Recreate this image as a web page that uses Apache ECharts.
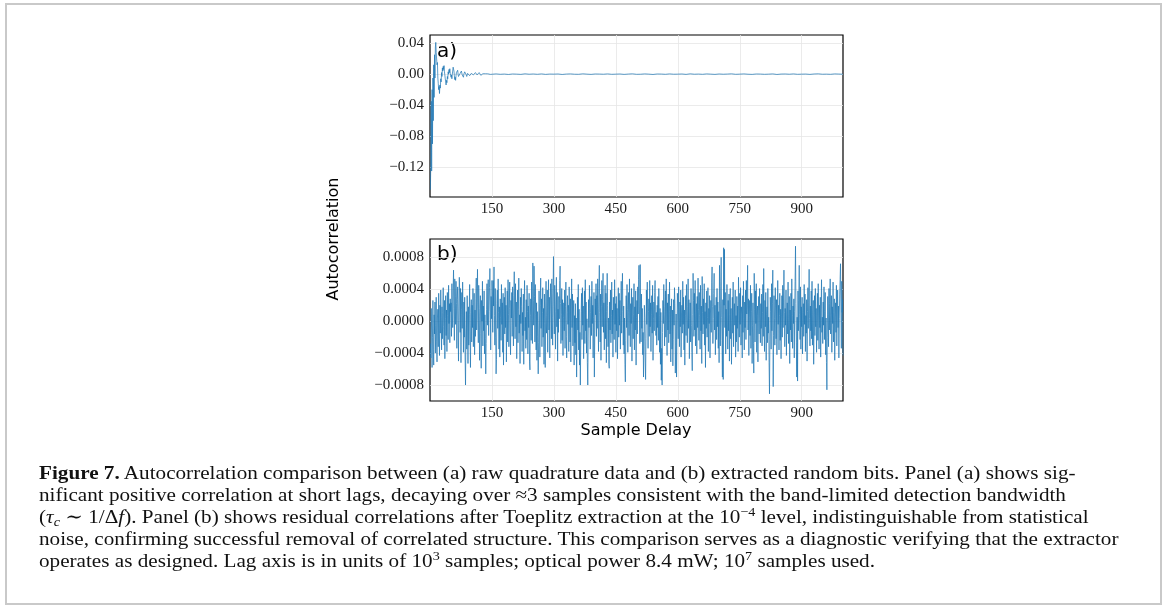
<!DOCTYPE html>
<html><head><meta charset="utf-8">
<script src="https://cdn.jsdelivr.net/npm/echarts@6/dist/echarts.min.js"></script>
<style>
html,body{margin:0;padding:0;background:#fff;width:1165px;height:608px;overflow:hidden}
#chart{position:absolute;left:0;top:0;width:1165px;height:608px}
#frame{position:absolute;left:5px;top:3px;width:1157px;height:602px;border:2px solid #c9c9c9;pointer-events:none;box-sizing:border-box}
#caption{position:absolute;left:39px;top:462px;font-family:'Liberation Serif','DejaVu Serif',serif;font-size:19.5px;line-height:22px;color:#111;white-space:nowrap;transform:scaleX(1.085);transform-origin:0 0}
#caption i{font-style:italic}
#caption sup{font-size:13px;line-height:0;vertical-align:7px}
#caption sub{font-size:13px;line-height:0;vertical-align:-3px}
</style></head>
<body>
<div id="chart"></div>
<div id="frame"></div>
<div id="caption">
<div><b>Figure 7.</b> Autocorrelation comparison between (a) raw quadrature data and (b) extracted random bits. Panel (a) shows sig-</div>
<div>nificant positive correlation at short lags, decaying over ≈3 samples consistent with the band-limited detection bandwidth</div>
<div>(<i>τ<sub>c</sub></i> ∼ 1/Δ<i>f</i>). Panel (b) shows residual correlations after Toeplitz extraction at the 10<sup>−4</sup> level, indistinguishable from statistical</div>
<div>noise, confirming successful removal of correlated structure. This comparison serves as a diagnostic verifying that the extractor</div>
<div>operates as designed. Lag axis is in units of 10<sup>3</sup> samples; optical power 8.4 mW; 10<sup>7</sup> samples used.</div>
</div>
<script>
// ---------- DATA ----------
// Panel (a): raw quadrature autocorrelation, lags 1..150 (every lag)
const aHeadValues = [
-0.149,-0.11,-0.035,-0.125,-0.02,-0.09,-0.005,-0.06,0.012,-0.03,
0.025,-0.005,0.035,0.041,0.028,0.03,0.012,0.015,-0.005,-0.012,
-0.02,-0.016,-0.025,-0.014,-0.018,-0.006,-0.01,0.002,-0.003,0.008,
0.004,0.01,0.006,0.011,0.003,0.004,-0.006,-0.004,-0.014,-0.008,
-0.011,-0.003,-0.006,0.003,0.0,0.006,0.002,0.007,0.001,0.003,
-0.004,-0.001,-0.006,0.0,0.004,0.009,0.011,0.004,-0.002,-0.007,
-0.004,-0.008,-0.002,0.002,0.004,0.001,0.005,0.0,-0.003,-0.005,
-0.002,-0.004,0.001,0.003,0.001,0.004,0.002,-0.001,-0.003,-0.001,
-0.004,0.0,0.002,0.003,0.001,0.003,0.0,-0.002,-0.003,-0.001,
0.001,0.002,0.003,0.001,0.0,-0.002,-0.001,-0.003,-0.001,0.001,
0.002,0.003,0.001,0.002,-0.001,-0.002,0.0,-0.002,0.001,0.002,
0.0,0.002,0.001,-0.001,-0.002,0.0,-0.001,0.001,0.002,0.001,
0.0015,-0.0005,-0.0015,-0.001,0.0,0.001,0.0015,0.0005,-0.0005,-0.001,
-0.0005,0.0005,0.001,0.0005,0.0,-0.0005,-0.0008,0.0,0.0006,0.0004,
-0.0002,-0.0005,0.0,0.0004,0.0002,-0.0003,0.0,0.0003,-0.0002,0.0001
];
// Panel (a): tail, lags 160..1000 every 10 lags
const aTailValues = [
3e-4,-2e-4,1e-4,-4e-4,2e-4,0,-3e-4,4e-4,-1e-4,2e-4,
-2e-4,3e-4,-3e-4,1e-4,0,2e-4,-4e-4,1e-4,3e-4,-1e-4,
-2e-4,4e-4,0,-3e-4,2e-4,1e-4,-1e-4,3e-4,-2e-4,0,
2e-4,-3e-4,1e-4,4e-4,-2e-4,-1e-4,3e-4,0,-4e-4,2e-4,
1e-4,-2e-4,3e-4,-1e-4,0,2e-4,-3e-4,4e-4,-1e-4,1e-4,
-2e-4,3e-4,0,-3e-4,2e-4,-1e-4,1e-4,4e-4,-2e-4,0,
3e-4,-1e-4,-3e-4,2e-4,1e-4,-2e-4,0,3e-4,-4e-4,1e-4,
2e-4,-1e-4,3e-4,-2e-4,0,1e-4,-3e-4,2e-4,4e-4,-1e-4,
0,-2e-4,3e-4,1e-4,-1e-4
];
// Panel (b): extracted bits autocorrelation, lags 1..1000
const bValues = [
-2.8e-4,-4.6e-4,1.6e-4,-1.1e-4,-5.8e-4,-2.0e-4,2.6e-4,-3.5e-4,-5.5e-4,0.8e-4,-1.6e-4,2.4e-4,-4.0e-4,-0.5e-4,3.0e-4,-2.6e-4,-5.1e-4,0.4e-4,1.5e-4,-3.2e-4,3.5e-4,-1.2e-4,-4.3e-4,2.0e-4,-1.5e-4,3.9e-4,0.5e-4,-3.6e-4,1.8e-4,-2.2e-4,1.1e-4,4.2e-4,-0.7e-4,-3.0e-4,2.6e-4,-4.7e-4,0.3e-4,3.2e-4,-1.8e-4,1.4e-4,-3.8e-4,3.6e-4,0.7e-4,-2.3e-4,4.5e-4,-0.3e-4,2.2e-4,-2.7e-4,2.8e-4,1.2e-4,
2.3e-4,-1.9e-4,4.7e-4,0.9e-4,-0.8e-4,3.8e-4,6.4e-4,1.6e-4,-2.4e-4,5.3e-4,3.1e-4,-0.4e-4,5.0e-4,2.2e-4,-3.4e-4,2.7e-4,4.3e-4,0.1e-4,-5.0e-4,1.9e-4,5.5e-4,3.4e-4,-1.4e-4,4.1e-4,-5.2e-4,1.5e-4,3.6e-4,-0.9e-4,4.9e-4,0.7e-4,-3.9e-4,2.4e-4,-2.0e-4,3.0e-4,-4.6e-4,-8.0e-4,-1.6e-4,1.2e-4,-3.5e-4,3.2e-4,-0.1e-4,-5.3e-4,1.8e-4,-3.0e-4,0.8e-4,4.6e-4,-2.3e-4,-5.8e-4,1.1e-4,2.7e-4,
-2.6e-4,2.0e-4,-0.8e-4,4.1e-4,-3.2e-4,0.5e-4,3.5e-4,-4.2e-4,1.4e-4,-1.9e-4,2.8e-4,5.4e-4,-1.1e-4,2.3e-4,6.5e-4,0.4e-4,-2.7e-4,4.5e-4,1.6e-4,-4.9e-4,0.9e-4,3.2e-4,-1.5e-4,-5.9e-4,2.6e-4,0,5.0e-4,-3.1e-4,1.9e-4,-1.2e-4,3.8e-4,-4.1e-4,0.8e-4,-2.2e-4,-6.6e-4,-2.8e-4,1.5e-4,4.7e-4,-0.5e-4,2.7e-4,5.2e-4,-1.8e-4,1.2e-4,4.2e-4,6.6e-4,2.4e-4,-3.6e-4,3.1e-4,0.3e-4,5.1e-4,
3.4e-4,-1.4e-4,5.1e-4,1.9e-4,6.8e-4,0.7e-4,-3.0e-4,4.1e-4,-2.0e-4,-6.6e-4,-4.8e-4,2.2e-4,3.9e-4,-0.9e-4,5.3e-4,1.1e-4,-3.5e-4,1.8e-4,-4.5e-4,2.8e-4,0.5e-4,-2.4e-4,4.6e-4,-0.4e-4,2.3e-4,-3.9e-4,3.5e-4,-5.5e-4,1.2e-4,3.0e-4,-1.6e-4,4.2e-4,-0.8e-4,2.0e-4,-5.1e-4,0.1e-4,3.8e-4,-2.6e-4,5.2e-4,0.8e-4,-3.2e-4,1.6e-4,4.9e-4,-1.1e-4,-4.2e-4,2.6e-4,0.4e-4,3.6e-4,-1.9e-4,4.3e-4,
1.4e-4,-3.1e-4,3.2e-4,6.2e-4,0.9e-4,-2.2e-4,4.7e-4,-0.7e-4,2.4e-4,-4.7e-4,0.3e-4,3.9e-4,-2.7e-4,1.5e-4,5.4e-4,-1.5e-4,0.8e-4,-5.3e-4,3.0e-4,-0.3e-4,4.1e-4,1.8e-4,-3.8e-4,1.1e-4,-1.8e-4,3.4e-4,-5.4e-4,2.2e-4,5.1e-4,-1.2e-4,0.5e-4,-3.4e-4,2.7e-4,-2.3e-4,4.5e-4,1.2e-4,-4.1e-4,1.9e-4,-0.8e-4,3.5e-4,-5.1e-4,-6.1e-4,0.7e-4,2.8e-4,-2.4e-4,4.9e-4,0.3e-4,-2.8e-4,7.3e-4,2.6e-4,
-0.5e-4,6.9e-4,3.1e-4,-2.6e-4,4.6e-4,0.8e-4,-3.6e-4,2.3e-4,-4.9e-4,1.2e-4,-1.9e-4,-6.6e-4,-2.7e-4,3.8e-4,0.4e-4,-4.5e-4,2.0e-4,5.4e-4,-0.9e-4,2.8e-4,-3.2e-4,1.1e-4,4.2e-4,-2.0e-4,1.6e-4,-5.4e-4,3.4e-4,-0.3e-4,-5.8e-4,1.4e-4,5.0e-4,-1.5e-4,0.7e-4,3.9e-4,-3.9e-4,1.9e-4,5.2e-4,-1.1e-4,3.0e-4,-4.6e-4,0.9e-4,4.7e-4,2.6e-4,-2.2e-4,5.3e-4,0.5e-4,-3.0e-4,3.5e-4,8.1e-4,1.8e-4,
-1.6e-4,4.5e-4,1.2e-4,-3.5e-4,2.4e-4,5.5e-4,-0.7e-4,3.6e-4,-5.0e-4,1.5e-4,-1.4e-4,3.1e-4,0.3e-4,5.1e-4,6.9e-4,2.2e-4,-2.8e-4,0.8e-4,4.1e-4,-2.4e-4,2.7e-4,-4.3e-4,0.5e-4,2.3e-4,-1.2e-4,3.9e-4,-3.4e-4,1.8e-4,4.9e-4,-1.9e-4,-4.6e-4,1.1e-4,3.2e-4,-0.4e-4,2.0e-4,-3.8e-4,4.3e-4,0,-2.6e-4,2.8e-4,-5.1e-4,1.4e-4,5.3e-4,-0.8e-4,3.4e-4,-3.1e-4,0.9e-4,2.6e-4,-5.5e-4,0.7e-4,
-2.7e-4,2.2e-4,-4.2e-4,0.4e-4,-7.0e-4,-2.0e-4,3.0e-4,-1.1e-4,4.6e-4,-3.6e-4,1.5e-4,-5.5e-4,-1.4e-4,-8.0e-4,-3.1e-4,1.2e-4,3.5e-4,-2.3e-4,4.2e-4,-0.5e-4,1.9e-4,-4.7e-4,0.8e-4,3.8e-4,-2.8e-4,5.2e-4,-1.2e-4,2.4e-4,-4.0e-4,0.3e-4,-5.2e-4,-8.0e-4,-2.6e-4,2.7e-4,-0.8e-4,4.5e-4,1.6e-4,-3.5e-4,1.1e-4,3.1e-4,-1.8e-4,5.0e-4,-0.3e-4,2.0e-4,-4.6e-4,0.5e-4,3.6e-4,-7.0e-4,-1.5e-4,2.8e-4,
0.8e-4,4.7e-4,-1.9e-4,3.2e-4,-0.9e-4,5.3e-4,1.6e-4,-3.8e-4,4.1e-4,7.0e-4,1.1e-4,-2.6e-4,3.4e-4,-4.9e-4,1.8e-4,5.1e-4,-0.7e-4,2.7e-4,6.0e-4,-1.4e-4,2.3e-4,-3.6e-4,0.5e-4,4.5e-4,-2.2e-4,3.5e-4,-5.2e-4,1.2e-4,6.0e-4,2.0e-4,-3.2e-4,0.4e-4,-5.4e-4,-5.9e-4,2.4e-4,-1.1e-4,3.9e-4,-2.7e-4,0.7e-4,4.9e-4,-1.6e-4,1.4e-4,-4.5e-4,3.0e-4,0.1e-4,-2.3e-4,5.2e-4,-0.4e-4,2.2e-4,-3.9e-4,
3.1e-4,-1.2e-4,1.6e-4,-4.7e-4,0.9e-4,4.2e-4,-2.0e-4,3.5e-4,-0.5e-4,2.6e-4,-3.5e-4,0.7e-4,5.0e-4,-1.5e-4,2.7e-4,6.0e-4,1.2e-4,-3.0e-4,1.9e-4,-4.1e-4,0.4e-4,-5.4e-4,-7.6e-4,-2.4e-4,3.2e-4,-0.8e-4,4.6e-4,1.5e-4,-3.9e-4,1.1e-4,3.6e-4,-1.8e-4,5.3e-4,0.3e-4,-3.2e-4,2.2e-4,-0.3e-4,4.1e-4,-5.0e-4,1.4e-4,3.0e-4,-2.2e-4,0.8e-4,4.7e-4,-3.6e-4,1.8e-4,-1.1e-4,3.8e-4,-5.5e-4,0.5e-4,
2.6e-4,-1.6e-4,4.3e-4,0.9e-4,5.2e-4,7.0e-4,1.9e-4,-2.8e-4,7.1e-4,0.4e-4,-2.6e-4,3.4e-4,-0.9e-4,1.6e-4,-4.2e-4,-1.4e-4,-7.0e-4,-3.2e-4,2.0e-4,0.5e-4,-4.6e-4,-7.3e-4,-2.2e-4,3.9e-4,-0.4e-4,4.9e-4,1.4e-4,-3.4e-4,1.2e-4,2.8e-4,-1.9e-4,5.1e-4,-0.7e-4,2.3e-4,-3.8e-4,0.8e-4,3.2e-4,-1.5e-4,4.5e-4,-4.9e-4,0.3e-4,2.4e-4,-1.2e-4,3.6e-4,5.1e-4,5.3e-4,-1.8e-4,1.1e-4,-3.0e-4,2.0e-4,
-0.8e-4,3.1e-4,-2.4e-4,4.1e-4,0.7e-4,-3.9e-4,1.6e-4,-5.4e-4,1.1e-4,-7.4e-4,-3.4e-4,-8.0e-4,-1.4e-4,2.6e-4,-0.3e-4,4.6e-4,1.8e-4,-3.1e-4,0.8e-4,3.8e-4,-2.0e-4,5.3e-4,0,-4.3e-4,2.3e-4,-1.1e-4,3.4e-4,-2.7e-4,1.2e-4,4.9e-4,-1.6e-4,1.9e-4,-5.1e-4,0.4e-4,2.8e-4,-3.5e-4,1.4e-4,-5.6e-4,-2.3e-4,2.7e-4,-0.5e-4,4.2e-4,2.2e-4,-6.5e-4,-3.0e-4,0.9e-4,-7.0e-4,-1.2e-4,3.5e-4,1.5e-4,
-2.2e-4,4.3e-4,0.5e-4,-3.2e-4,2.4e-4,-0.7e-4,3.9e-4,-4.5e-4,0.9e-4,2.0e-4,-1.5e-4,5.0e-4,-0.4e-4,3.0e-4,-3.6e-4,1.4e-4,-5.5e-4,0.7e-4,3.2e-4,-1.8e-4,4.6e-4,1.2e-4,-2.7e-4,1.8e-4,5.3e-4,-0.9e-4,2.7e-4,-4.7e-4,0.3e-4,2.3e-4,-2.6e-4,4.1e-4,-0.5e-4,-3.9e-4,-6.2e-4,0.8e-4,6.0e-4,2.6e-4,-1.9e-4,3.5e-4,-1.1e-4,5.1e-4,-3.1e-4,0.4e-4,2.2e-4,-4.1e-4,3.1e-4,-0.8e-4,5.4e-4,1.5e-4,
-2.4e-4,3.6e-4,0.7e-4,-3.5e-4,4.5e-4,-1.2e-4,1.9e-4,-5.3e-4,5.6e-4,1.1e-4,-1.6e-4,2.8e-4,-0.4e-4,4.7e-4,-3.0e-4,1.2e-4,-5.8e-4,2.3e-4,-0.9e-4,3.8e-4,-2.0e-4,0.5e-4,4.2e-4,-3.8e-4,1.6e-4,-0.3e-4,3.2e-4,-4.6e-4,0.9e-4,2.6e-4,-1.4e-4,4.9e-4,6.8e-4,1.8e-4,-2.8e-4,0.3e-4,3.5e-4,6.0e-4,-1.1e-4,2.0e-4,-4.2e-4,0.8e-4,3.0e-4,-2.3e-4,4.1e-4,-0.7e-4,2.4e-4,-3.4e-4,1.2e-4,-5.2e-4,
7.0e-4,1.9e-4,-3.1e-4,4.3e-4,8.0e-4,0.5e-4,-2.4e-4,-7.0e-4,2.7e-4,-7.3e-4,9.2e-4,2.0e-4,9.0e-4,-0.8e-4,3.6e-4,-4.1e-4,1.5e-4,-1.9e-4,4.6e-4,0.4e-4,-3.5e-4,2.6e-4,-1.2e-4,3.4e-4,-5.0e-4,0.8e-4,4.1e-4,-2.2e-4,1.6e-4,-5.4e-4,0.1e-4,3.0e-4,-1.5e-4,4.9e-4,-3.2e-4,1.1e-4,2.2e-4,-0.5e-4,3.9e-4,-4.5e-4,0.7e-4,-2.6e-4,3.1e-4,-0.9e-4,1.9e-4,-3.8e-4,5.5e-4,1.4e-4,-2.0e-4,3.5e-4,
-0.4e-4,4.2e-4,-3.0e-4,1.8e-4,0.8e-4,-4.6e-4,3.2e-4,-1.4e-4,5.0e-4,0.3e-4,-3.6e-4,2.4e-4,-0.8e-4,3.9e-4,-2.3e-4,5.1e-4,0.9e-4,2.0e-4,7.0e-4,-1.1e-4,2.8e-4,-4.3e-4,0.5e-4,2.6e-4,-1.8e-4,4.5e-4,-3.4e-4,1.2e-4,3.5e-4,-5.3e-4,-0.5e-4,2.3e-4,-2.8e-4,-6.5e-4,6.0e-4,1.5e-4,-2.6e-4,3.8e-4,-0.3e-4,4.7e-4,-3.9e-4,0.7e-4,1.9e-4,-5.1e-4,1.4e-4,3.1e-4,-1.6e-4,4.1e-4,0.4e-4,-2.7e-4,
2.2e-4,-0.9e-4,3.4e-4,-3.1e-4,1.1e-4,4.6e-4,-1.9e-4,6.6e-4,0.1e-4,-3.8e-4,2.6e-4,-0.7e-4,3.6e-4,-4.9e-4,0.8e-4,1.8e-4,-2.7e-4,4.1e-4,-1.5e-4,0.5e-4,-5.2e-4,-9.1e-4,-2.3e-4,3.0e-4,1.2e-4,-3.5e-4,4.7e-4,-1.2e-4,2.2e-4,6.4e-4,-8.2e-4,-1.8e-4,3.2e-4,0.3e-4,-3.0e-4,4.2e-4,1.4e-4,-2.2e-4,2.7e-4,-4.2e-4,0.9e-4,5.1e-4,-0.4e-4,2.0e-4,-3.6e-4,0.7e-4,3.5e-4,-2.4e-4,1.5e-4,-4.7e-4,
0.4e-4,3.2e-4,-2.0e-4,4.5e-4,-0.8e-4,2.4e-4,6.4e-4,1.1e-4,-3.2e-4,1.6e-4,-0.5e-4,3.9e-4,-4.3e-4,0.8e-4,2.3e-4,-1.6e-4,4.9e-4,-2.8e-4,0.3e-4,3.1e-4,-5.3e-4,1.4e-4,-1.1e-4,3.5e-4,-2.6e-4,5.3e-4,0.7e-4,-3.4e-4,1.9e-4,-0.3e-4,2.8e-4,-4.6e-4,1.2e-4,5.0e-4,9.4e-4,2.2e-4,-2.7e-4,-7.0e-4,0.5e-4,-7.5e-4,3.8e-4,-1.2e-4,2.6e-4,7.0e-4,0.8e-4,-2.3e-4,4.3e-4,-3.5e-4,1.8e-4,-0.7e-4,
3.0e-4,-4.1e-4,1.1e-4,2.2e-4,-1.9e-4,4.6e-4,-0.4e-4,3.4e-4,-3.8e-4,0.7e-4,-1.5e-4,2.7e-4,-5.0e-4,1.2e-4,4.2e-4,-0.9e-4,2.3e-4,6.5e-4,0.3e-4,-3.1e-4,1.9e-4,-1.2e-4,3.8e-4,-2.2e-4,5.0e-4,-3.0e-4,0.8e-4,2.6e-4,-5.4e-4,0.4e-4,3.2e-4,-1.8e-4,4.1e-4,-0.7e-4,1.6e-4,-3.9e-4,0.9e-4,3.5e-4,-2.4e-4,4.7e-4,0,-3.5e-4,2.0e-4,-0.8e-4,3.0e-4,-4.5e-4,1.5e-4,5.2e-4,-1.4e-4,0.5e-4,
-2.8e-4,2.4e-4,-0.5e-4,4.3e-4,-2.3e-4,1.2e-4,3.6e-4,-4.2e-4,0.4e-4,-5.2e-4,-8.6e-4,-2.0e-4,3.1e-4,0.8e-4,-3.2e-4,4.1e-4,-1.1e-4,2.2e-4,5.3e-4,-1.6e-4,0.7e-4,3.2e-4,-3.9e-4,1.8e-4,-0.3e-4,4.9e-4,-2.6e-4,1.1e-4,2.8e-4,-4.9e-4,0.5e-4,2.3e-4,-1.4e-4,4.5e-4,-3.1e-4,0.9e-4,3.9e-4,-0.8e-4,1.9e-4,-4.6e-4,0.3e-4,3.4e-4,5.2e-4,7.2e-4,1.4e-4,-3.4e-4,5.0e-4,1.1e-4,2.7e-4,-4.3e-4
];
// Axis ticks
const xTickValues = [150, 300, 450, 600, 750, 900];
const xTickLabels = ['150', '300', '450', '600', '750', '900'];
const aYTickValues = [-0.12, -0.08, -0.04, 0, 0.04];
const aYTickLabels = ['\u22120.12', '\u22120.08', '\u22120.04', '0.00', '0.04'];
const bYTickValues = [-0.0008, -0.0004, 0, 0.0004, 0.0008];
const bYTickLabels = ['\u22120.0008', '\u22120.0004', '0.0000', '0.0004', '0.0008'];

// ---------- BUILD ----------
const aHeadLags = aHeadValues.map((_, i) => i + 1);
const aTailLags = aTailValues.map((_, i) => 160 + 10 * i);
const aData = aHeadLags.map((l, i) => [l, aHeadValues[i]])
  .concat(aTailLags.map((l, i) => [l, aTailValues[i]]));
const bLags = bValues.map((_, i) => i + 1);
const bData = bLags.map((l, i) => [l, bValues[i]]);

function labeller(vals, labels) {
  return function (v) {
    const i = vals.findIndex(t => Math.abs(t - v) < 1e-9);
    return i >= 0 ? labels[i] : '';
  };
}
const serif = "'Liberation Serif','DejaVu Serif',serif";
const sans = "'DejaVu Sans','Noto Sans',sans-serif";
const gridLine = { show: true, lineStyle: { color: '#e6e6e6', width: 0.8 } };

function xAxis(gi) {
  return {
    type: 'value', gridIndex: gi, min: 0, max: 1000,
    axisLine: { show: false },
    axisTick: { show: false, customValues: xTickValues },
    axisLabel: { customValues: xTickValues, formatter: labeller(xTickValues, xTickLabels),
      margin: 5, fontFamily: serif, fontSize: 15, color: '#1a1a1a' },
    splitLine: gridLine
  };
}
function yAxis(gi, min, max, vals, labels) {
  return {
    type: 'value', gridIndex: gi, min: min, max: max,
    axisLine: { show: false },
    axisTick: { show: false, customValues: vals },
    axisLabel: { customValues: vals, formatter: labeller(vals, labels),
      margin: 6, fontFamily: serif, fontSize: 15, color: '#1a1a1a' },
    splitLine: gridLine
  };
}
const lineStyle = { color: '#1f77b4', width: 0.9, opacity: 0.8 };

const chart = echarts.init(document.getElementById('chart'));
chart.setOption({
  animation: false,
  backgroundColor: '#fff',
  grid: [
    { left: 430, top: 35, width: 413, height: 162, show: true, borderColor: '#000', borderWidth: 1.2, backgroundColor: 'transparent' },
    { left: 430, top: 239, width: 413, height: 162, show: true, borderColor: '#000', borderWidth: 1.2, backgroundColor: 'transparent' }
  ],
  xAxis: [xAxis(0), xAxis(1)],
  yAxis: [
    yAxis(0, -0.1585, 0.0505, aYTickValues, aYTickLabels),
    yAxis(1, -0.001, 0.00103, bYTickValues, bYTickLabels)
  ],
  series: [
    { type: 'line', xAxisIndex: 0, yAxisIndex: 0, data: aData, showSymbol: false, symbol: 'none', lineStyle: lineStyle, silent: true },
    { type: 'line', xAxisIndex: 1, yAxisIndex: 1, data: bData, showSymbol: false, symbol: 'none', lineStyle: lineStyle, silent: true }
  ],
  graphic: [
    { type: 'text', left: 437, top: 42, style: { text: 'a)', font: '20px ' + sans, fill: '#000' } },
    { type: 'text', left: 437, top: 245, style: { text: 'b)', font: '20px ' + sans, fill: '#000' } },
    { type: 'text', x: 334, y: 239, rotation: Math.PI / 2,
      style: { text: 'Autocorrelation', font: '16px ' + sans, fill: '#000', align: 'center', verticalAlign: 'middle' } },
    { type: 'text', x: 636, y: 431,
      style: { text: 'Sample Delay', font: '16px ' + sans, fill: '#000', align: 'center', verticalAlign: 'middle' } }
  ]
});
</script>
</body></html>
